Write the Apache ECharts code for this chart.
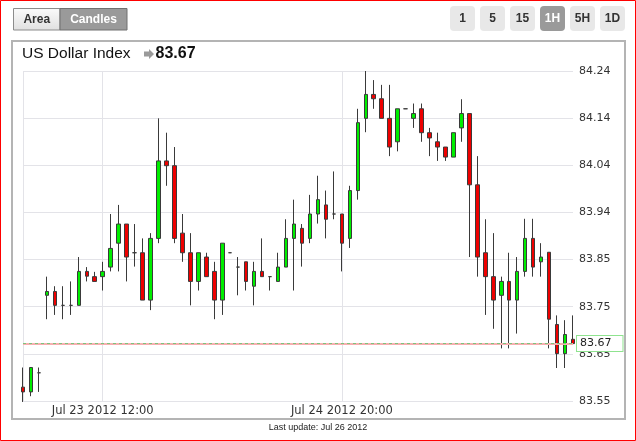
<!DOCTYPE html>
<html><head><meta charset="utf-8">
<script src="https://cdn.jsdelivr.net/npm/echarts@6/dist/echarts.min.js"></script>
<style>html,body{margin:0;padding:0;background:#fff}#c{width:636px;height:441px}</style>
</head><body><div id="c"></div>
<script>
const categories = [
 'Jul 23 2012 02:00','Jul 23 2012 03:00','Jul 23 2012 04:00','Jul 23 2012 05:00','Jul 23 2012 06:00',
 'Jul 23 2012 07:00','Jul 23 2012 08:00','Jul 23 2012 09:00','Jul 23 2012 10:00','Jul 23 2012 11:00',
 'Jul 23 2012 12:00','Jul 23 2012 13:00','Jul 23 2012 14:00','Jul 23 2012 15:00','Jul 23 2012 16:00',
 'Jul 23 2012 17:00','Jul 23 2012 18:00','Jul 23 2012 19:00','Jul 23 2012 20:00','Jul 23 2012 21:00',
 'Jul 23 2012 22:00','Jul 23 2012 23:00','Jul 24 2012 02:00','Jul 24 2012 03:00','Jul 24 2012 04:00',
 'Jul 24 2012 05:00','Jul 24 2012 06:00','Jul 24 2012 07:00','Jul 24 2012 08:00','Jul 24 2012 09:00',
 'Jul 24 2012 10:00','Jul 24 2012 11:00','Jul 24 2012 12:00','Jul 24 2012 13:00','Jul 24 2012 14:00',
 'Jul 24 2012 15:00','Jul 24 2012 16:00','Jul 24 2012 17:00','Jul 24 2012 18:00','Jul 24 2012 19:00',
 'Jul 24 2012 20:00','Jul 24 2012 21:00','Jul 24 2012 22:00','Jul 24 2012 23:00','Jul 25 2012 00:00',
 'Jul 25 2012 01:00','Jul 25 2012 02:00','Jul 25 2012 03:00','Jul 25 2012 04:00','Jul 25 2012 05:00',
 'Jul 25 2012 06:00','Jul 25 2012 07:00','Jul 25 2012 08:00','Jul 25 2012 09:00','Jul 25 2012 10:00',
 'Jul 25 2012 11:00','Jul 25 2012 12:00','Jul 25 2012 13:00','Jul 25 2012 14:00','Jul 25 2012 15:00',
 'Jul 25 2012 16:00','Jul 25 2012 17:00','Jul 25 2012 18:00','Jul 25 2012 19:00','Jul 25 2012 20:00',
 'Jul 25 2012 21:00','Jul 25 2012 22:00','Jul 25 2012 23:00','Jul 26 2012 00:00','Jul 26 2012 01:00'
];
const openValues = [
 83.579,83.569,83.609,83.771,83.779,83.750,83.750,83.750,83.821,83.810,
 83.810,83.830,83.880,83.920,83.860,83.860,83.761,83.890,84.052,84.042,
 83.901,83.860,83.800,83.851,83.821,83.761,83.860,83.830,83.841,83.790,
 83.821,83.810,83.800,83.830,83.890,83.911,83.890,83.941,83.960,83.941,
 83.941,83.890,83.990,84.141,84.191,84.182,84.141,84.092,84.161,84.141,
 84.161,84.111,84.092,84.081,84.060,84.121,84.151,84.002,83.860,83.810,
 83.771,83.800,83.761,83.821,83.890,83.841,83.861,83.710,83.649,83.679
];
const highValues = [
 83.620,83.621,83.620,83.810,83.790,83.790,83.800,83.851,83.830,83.820,
 83.841,83.941,83.960,83.920,83.920,83.890,83.901,84.141,84.111,84.081,
 83.941,83.901,83.860,83.860,83.841,83.880,83.860,83.851,83.841,83.841,
 83.890,83.810,83.860,83.930,83.971,83.920,83.981,84.021,83.990,84.030,
 83.941,84.000,84.161,84.240,84.221,84.211,84.211,84.161,84.161,84.172,
 84.172,84.121,84.111,84.081,84.111,84.181,84.151,84.062,83.930,83.901,
 83.810,83.860,83.851,83.931,83.931,83.880,83.861,83.729,83.719,83.729
];
const lowValues = [
 83.548,83.560,83.569,83.721,83.730,83.721,83.730,83.750,83.800,83.800,
 83.781,83.821,83.821,83.800,83.831,83.761,83.740,83.880,84.000,83.880,
 83.841,83.750,83.781,83.810,83.721,83.730,83.860,83.771,83.781,83.750,
 83.810,83.781,83.800,83.830,83.781,83.831,83.880,83.921,83.890,83.930,
 83.821,83.870,83.971,84.112,84.161,84.141,84.062,84.072,84.161,84.121,
 84.092,84.062,84.052,84.052,84.060,84.092,83.851,83.810,83.730,83.701,
 83.660,83.660,83.691,83.810,83.810,83.810,83.660,83.619,83.619,83.670
];
const closeValues = [
 83.569,83.620,83.609,83.779,83.750,83.750,83.750,83.821,83.811,83.800,
 83.821,83.869,83.920,83.851,83.860,83.761,83.890,84.052,84.042,83.890,
 83.860,83.800,83.860,83.810,83.761,83.880,83.860,83.830,83.800,83.821,
 83.810,83.810,83.830,83.890,83.920,83.880,83.941,83.971,83.930,83.941,
 83.880,83.990,84.132,84.191,84.182,84.141,84.081,84.161,84.161,84.151,
 84.111,84.100,84.081,84.060,84.111,84.151,84.002,83.851,83.810,83.761,
 83.800,83.761,83.821,83.890,83.830,83.851,83.721,83.649,83.689,83.670
];
const yTickLabels = ['83.55','83.65','83.75','83.85','83.94','84.04','84.14','84.24'];
const xLabelIndexes = [10, 40];
const xGridIndexes = [0, 10, 40];
const lastPrice = 83.67;
const chartTitle = 'US Dollar Index';
const chartTypes = ['Area', 'Candles'];
const periods = ['1', '5', '15', '1H', '5H', '1D'];
const footer = 'Last update: Jul 26 2012';
const yMin = 83.55, yMax = 84.24;
const yInterval = (yMax - yMin) / (yTickLabels.length - 1);

const candleData = openValues.map((o, i) => [o, closeValues[i], lowValues[i], highValues[i]]);

const graphics = [];
graphics.push({type:'rect', shape:{x:0.5,y:0.5,width:635,height:440}, style:{fill:'none', stroke:'#ff0000', lineWidth:1}, z:100});
graphics.push({type:'rect', shape:{x:12,y:41,width:613,height:378}, style:{fill:'none', stroke:'#b4b4b4', lineWidth:2}, z:-1});
const typeBtns = [{x:13.5,w:46.5},{x:60,w:67}];
chartTypes.forEach((t, i) => {
  const sel = t === 'Candles';
  const b = typeBtns[i];
  graphics.push({type:'rect', shape:{x:b.x,y:8.5,width:b.w,height:21.5}, style:{
    fill: sel ? '#9a9a9a' : {type:'linear',x:0,y:0,x2:0,y2:1,colorStops:[{offset:0,color:'#fbfbfb'},{offset:1,color:'#e0e0e0'}]},
    stroke: sel ? '#707070' : '#8c8c8c', lineWidth:1}});
  graphics.push({type:'text', style:{x:b.x+b.w/2, y:19.5, text:t, align:'center', verticalAlign:'middle',
    font:'bold 12px "Liberation Sans", Arial, sans-serif', fill: sel ? '#ffffff' : '#333333'}});
});
periods.forEach((p, i) => {
  const sel = p === '1H';
  const x = 450 + i * 30;
  graphics.push({type:'rect', shape:{x:x,y:6,width:25,height:25,r:4}, style:{fill: sel ? '#9a9a9a' : '#e8e8e8'}});
  graphics.push({type:'text', style:{x:x+12.5, y:19, text:p, align:'center', verticalAlign:'middle',
    font:'bold 12px "Liberation Sans", Arial, sans-serif', fill: sel ? '#ffffff' : '#333333'}});
});
graphics.push({type:'text', style:{x:22, y:54, text:chartTitle, align:'left', verticalAlign:'middle',
  font:'15.5px "Liberation Sans", Arial, sans-serif', fill:'#111'}});
graphics.push({type:'polygon', shape:{points:[[144,51.5],[149,51.5],[149,49],[154,54],[149,59],[149,56.5],[144,56.5]]}, style:{fill:'#9a9a9a'}});
graphics.push({type:'text', style:{x:155.5, y:54, text:lastPrice.toFixed(2), align:'left', verticalAlign:'middle',
  font:'bold 16px "Liberation Sans", Arial, sans-serif', fill:'#111'}});
graphics.push({type:'text', style:{x:318, y:428, text:footer, align:'center', verticalAlign:'middle',
  font:'9px "Liberation Sans", Arial, sans-serif', fill:'#222'}});

const chart = echarts.init(document.getElementById('c'), null, {renderer:'canvas'});
chart.setOption({
  animation: false,
  backgroundColor: '#ffffff',
  graphic: graphics,
  grid: {left: 23, right: 63, top: 71, bottom: 40},
  xAxis: {
    type: 'category',
    data: categories,
    boundaryGap: false,
    axisLine: {show: false},
    axisTick: {show: false},
    axisLabel: {
      interval: (idx) => xLabelIndexes.includes(idx),
      margin: 4,
      fontFamily: 'DejaVu Sans', fontSize: 11.5, color: '#333'
    },
    splitLine: {show: true, interval: (idx) => xGridIndexes.includes(idx), lineStyle: {color: '#e3e3e8', width: 1}}
  },
  yAxis: {
    type: 'value',
    position: 'right',
    min: yMin, max: yMax, interval: yInterval,
    axisLine: {show: false},
    axisTick: {show: false},
    axisLabel: {
      margin: 6,
      fontFamily: 'DejaVu Sans', fontSize: 11, color: '#333',
      formatter: (v) => yTickLabels[Math.round((v - yMin) / yInterval)] || ''
    },
    splitLine: {show: true, lineStyle: {color: '#e3e3e8', width: 1}}
  },
  series: [{
    type: 'candlestick',
    data: candleData,
    barWidth: 4,
    itemStyle: {
      color: '#00ee00', color0: '#ee0000',
      borderColor: '#3a3a3a', borderColor0: '#3a3a3a', borderColorDoji: '#3a3a3a',
      borderWidth: 1
    },
    markLine: {
      silent: true,
      symbol: 'none',
      animation: false,
      data: [
        {yAxis: lastPrice, lineStyle: {color: '#f6b0b0', width: 2, type: 'solid'},
          label: {show: true, position: 'end', distance: 4, formatter: lastPrice.toFixed(2),
            fontFamily: 'DejaVu Sans', fontSize: 11, color: '#222', backgroundColor: '#ffffff',
            borderColor: '#8fe38f', borderWidth: 1, padding: [1, 11, 1, 3], lineHeight: 13}},
        {yAxis: lastPrice, lineStyle: {color: '#7cc47c', width: 1, type: [3, 3]}, label: {show: false}}
      ]
    }
  }]
});
</script>
</body></html>
